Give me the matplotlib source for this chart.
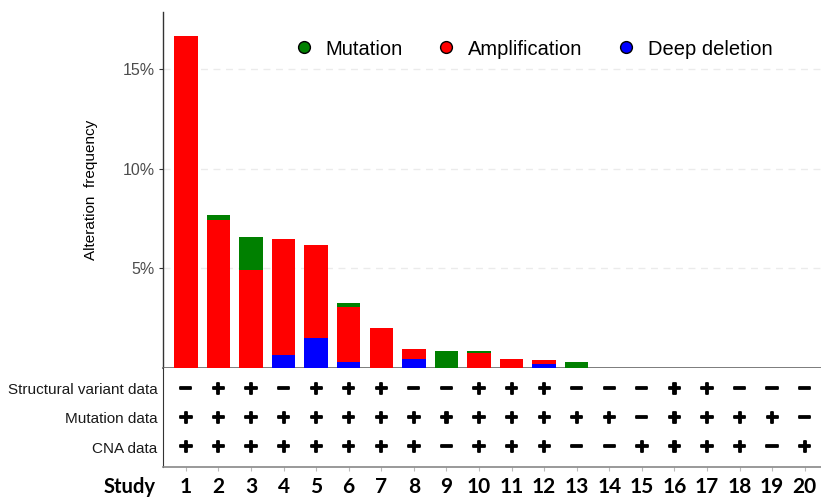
import matplotlib
matplotlib.use("Agg")
import matplotlib.pyplot as plt
from matplotlib.lines import Line2D
import matplotlib.patheffects as pe
import numpy as np

studies = [str(i) for i in range(1, 21)]
deep_deletion = [0, 0, 0, 0.64, 1.52, 0.30, 0, 0.45, 0, 0, 0, 0.22, 0, 0, 0, 0, 0, 0, 0, 0]
amplification = [16.67, 7.44, 4.91, 5.84, 4.63, 2.74, 1.99, 0.49, 0, 0.74, 0.44, 0.18, 0, 0, 0, 0, 0, 0, 0, 0]
mutation = [0, 0.22, 1.64, 0, 0, 0.20, 0, 0, 0.87, 0.13, 0, 0, 0.32, 0, 0, 0, 0, 0, 0, 0]

row_labels = ["Structural variant data", "Mutation data", "CNA data"]
sv_data = [0, 1, 1, 0, 1, 1, 1, 0, 0, 1, 1, 1, 0, 0, 0, 1, 1, 0, 0, 0]
mut_data = [1, 1, 1, 1, 1, 1, 1, 1, 1, 1, 1, 1, 1, 1, 0, 1, 1, 1, 1, 0]
cna_data = [1, 1, 1, 1, 1, 1, 1, 1, 0, 1, 1, 1, 0, 0, 1, 1, 1, 1, 0, 1]

plt.rcParams['font.family'] = ['Liberation Sans', 'DejaVu Sans']

fig = plt.figure(figsize=(8.21, 4.98), dpi=100)
ax = fig.add_axes([163/821, 1-368/498, 1-163/821, (368-12)/498])
axt = fig.add_axes([163/821, 1-467/498, 1-163/821, 99/498])

x = np.arange(1, 21)
dd = np.array(deep_deletion)
am = np.array(amplification)
mu = np.array(mutation)
w = 0.72
ax.bar(x, dd, width=w, color='#0000FF', zorder=3)
ax.bar(x, am, width=w, bottom=dd, color='#FF0000', zorder=3)
ax.bar(x, mu, width=w, bottom=dd+am, color='#008000', zorder=3)

xlim = (0.3, 20.5)
ax.set_xlim(*xlim)
ax.set_ylim(0, 17.85)
ax.set_yticks([5, 10, 15])
ax.set_yticklabels(['5%', '10%', '15%'], fontsize=11.5, color='#4d4d4d')
ax.set_xticks([])
ax.yaxis.grid(True, linestyle=(0, (5, 4)), color='#ebebeb', linewidth=1, zorder=0)
for s in ['top', 'right']:
    ax.spines[s].set_visible(False)
ax.spines['left'].set_color('#333333')
ax.spines['bottom'].set_color('#666666')
ax.spines['left'].set_linewidth(1.0)
ax.spines['bottom'].set_linewidth(1.2)
ax.tick_params(axis='y', length=3, color='#333333', pad=3)
ax.set_ylabel('Alteration  frequency', fontsize=11, labelpad=18)

handles = [Line2D([], [], marker='o', linestyle='none', markerfacecolor=c,
                  markeredgecolor='black', markersize=8.5, markeredgewidth=1)
           for c in ['#008000', '#FF0000', '#0000FF']]
ax.legend(handles, ['Mutation', 'Amplification', 'Deep deletion'], ncol=3,
          loc='center', bbox_to_anchor=(0.5626, 0.896), frameon=False,
          fontsize=14.5, handletextpad=0.6, columnspacing=1.65, handlelength=1.0)

# table
axt.set_xlim(*xlim)
axt.set_ylim(0, 1)
rows_y = [0.788, 0.495, 0.202]
thick = [pe.withStroke(linewidth=1.3, foreground='black')]
for vals, yy in zip([sv_data, mut_data, cna_data], rows_y):
    for xi, v in zip(x, vals):
        axt.text(xi, yy, '+' if v else '\u2212', ha='center', va='center',
                 fontsize=13, fontweight='bold', family='DejaVu Sans',
                 path_effects=thick)
axt.set_yticks(rows_y)
axt.set_yticklabels(row_labels, fontsize=11, color='#1a1a1a')
axt.tick_params(axis='y', length=0, pad=4)
axt.set_xticks(x)
axt.set_xticklabels(studies, fontsize=15, fontweight='bold', family='Lato')
axt.tick_params(axis='x', length=3, color='#bbbbbb', pad=4)
for s in ['top', 'right']:
    axt.spines[s].set_visible(False)
axt.spines['left'].set_color('#333333')
axt.spines['bottom'].set_color('#888888')
axt.spines['bottom'].set_linewidth(1.2)
fig.text(130/821, 1-493/498, 'Study', ha='center', va='baseline', fontsize=14.5,
         fontweight='bold', family='Lato')

fig.savefig('out.png', dpi=100)
